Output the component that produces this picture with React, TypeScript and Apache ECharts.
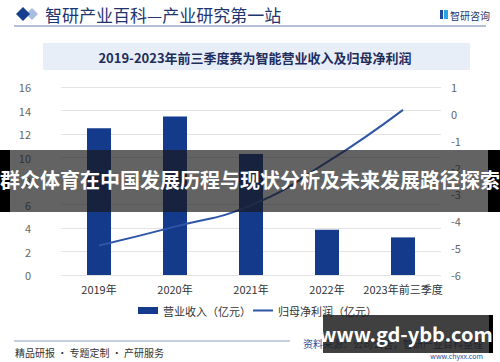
import React, { useEffect, useRef } from "react";
import * as echarts from "echarts";

const categories = ["2019年", "2020年", "2021年", "2022年", "2023年前三季度"];
const revenue = [12.5, 13.5, 10.3, 3.85, 3.2];
const netProfit = [-4.9, -4.2, -3.4, -1.8, 0.15];
const leftTicks = { min: 0, max: 16, interval: 2 };
const rightTicks = { min: -6, max: 1, interval: 1 };

const FONT = "'Noto Sans CJK SC', 'Noto Sans', sans-serif";

export default function App() {
  const ref = useRef<HTMLDivElement>(null);
  useEffect(() => {
    if (!ref.current) return;
    const chart = echarts.init(ref.current, null, { renderer: "svg" });
    chart.setOption({
      animation: false,
      backgroundColor: "#ffffff",
      textStyle: { fontFamily: FONT },
      grid: { left: 61, right: 59, top: 87, bottom: 87, containLabel: false },
      legend: [
        {
          top: 305,
          left: 138,
          padding: 0,
          itemWidth: 20,
          itemHeight: 7,
          itemGap: 10,
          textStyle: { fontSize: 11, color: "#333", fontFamily: FONT },
          data: [{ name: "营业收入（亿元）", icon: "rect" }],
        },
        {
          top: 305,
          left: 253,
          padding: 0,
          itemWidth: 20,
          itemHeight: 2,
          itemGap: 10,
          textStyle: { fontSize: 11, color: "#333", fontFamily: FONT },
          data: [{ name: "归母净利润（亿元）", icon: "rect" }],
        },
      ],
      xAxis: {
        type: "category",
        data: categories,
        axisLine: { show: false },
        axisTick: { show: false },
        axisLabel: { fontSize: 11, color: "#333", margin: 8, interval: 0, fontFamily: FONT },
      },
      yAxis: [
        {
          type: "value",
          ...leftTicks,
          axisLine: { show: false },
          axisTick: { show: false },
          axisLabel: { fontSize: 11, color: "#666", margin: 30, fontFamily: FONT },
          splitLine: { lineStyle: { color: "#e3e3e3", width: 1 } },
        },
        {
          type: "value",
          ...rightTicks,
          axisLine: { show: false },
          axisTick: { show: false },
          axisLabel: { fontSize: 11, color: "#666", margin: 10, fontFamily: FONT },
          splitLine: { show: false },
        },
      ],
      series: [
        {
          name: "营业收入（亿元）",
          type: "bar",
          data: revenue,
          barWidth: 24,
          itemStyle: { color: "#133a8b" },
        },
        {
          name: "归母净利润（亿元）",
          type: "line",
          yAxisIndex: 1,
          data: netProfit,
          smooth: true,
          symbol: "none",
          lineStyle: { color: "#2f55a6", width: 2 },
          itemStyle: { color: "#2f55a6" },
        },
      ],
      graphic: [
        // header
        { type: "polygon", shape: { points: [[32, 8], [38, 14], [32, 20], [26, 14]] }, style: { fill: "#a9bde0" } },
        { type: "polygon", shape: { points: [[23, 7], [30, 14], [23, 21], [16, 14]] }, style: { fill: "#173e8f" } },
        {
          type: "text",
          x: 45,
          y: 14,
          style: { text: "智研产业百科—产业研究第一站", font: `17px ${FONT}`, fill: "#1e3570", textVerticalAlign: "middle" },
        },
        { type: "rect", shape: { x: 440, y: 10, width: 3, height: 9 }, style: { fill: "#1f4aa0" } },
        { type: "rect", shape: { x: 444, y: 10, width: 4, height: 9 }, style: { fill: "#2aa3e0" } },
        {
          type: "text",
          x: 450,
          y: 15,
          style: { text: "智研咨询", font: `10px ${FONT}`, fill: "#1e3570", textVerticalAlign: "middle" },
        },
        { type: "line", shape: { x1: 14, y1: 26, x2: 486, y2: 26 }, style: { stroke: "#6a7fae", lineWidth: 1 } },
        // title box
        { type: "rect", shape: { x: 43, y: 43, width: 427, height: 27 }, style: { fill: "#e8eef8" } },
        {
          type: "text",
          x: 255,
          y: 57,
          style: {
            text: "2019-2023年前三季度赛为智能营业收入及归母净利润",
            font: `bold 13px ${FONT}`,
            fill: "#1e2d5c",
            textAlign: "center",
            textVerticalAlign: "middle",
          },
        },
        // footer
        { type: "line", shape: { x1: 14, y1: 341, x2: 290, y2: 341 }, style: { stroke: "#8d9dc4", lineWidth: 1 } },
        {
          type: "text",
          x: 15,
          y: 352,
          style: { text: "精品研报 · 专题定制 · 产研服务", font: `10px ${FONT}`, fill: "#333", textVerticalAlign: "middle" },
        },
        {
          type: "text",
          x: 483,
          y: 343,
          style: { text: "资料来源：公司公告，智研产业百科整理", font: `10px ${FONT}`, fill: "#2a4a9a", textAlign: "right", textVerticalAlign: "middle" },
        },
        {
          type: "text",
          x: 483,
          y: 356,
          style: { text: "www.chyxx.com", font: `7px ${FONT}`, fill: "#2a4a9a", textAlign: "right", textVerticalAlign: "middle" },
        },
        // overlay band
        { type: "rect", shape: { x: 0, y: 150, width: 500, height: 62 }, style: { fill: "rgba(25,25,25,0.68)" }, z: 100 },
        { type: "rect", shape: { x: 0, y: 150, width: 10, height: 62 }, style: { fill: "#000" }, z: 100 },
        { type: "rect", shape: { x: 488, y: 150, width: 12, height: 62 }, style: { fill: "#000" }, z: 100 },
        {
          type: "text",
          x: 250,
          y: 179,
          z: 101,
          style: {
            text: "群众体育在中国发展历程与现状分析及未来发展路径探索",
            font: `bold 20px ${FONT}`,
            fill: "#ffffff",
            textAlign: "center",
            textVerticalAlign: "middle",
          },
        },
        // overlay box bottom right
        { type: "rect", shape: { x: 323, y: 315, width: 167, height: 38 }, style: { fill: "rgba(30,30,30,0.85)" }, z: 100 },
        { type: "rect", shape: { x: 489, y: 315, width: 4, height: 38 }, style: { fill: "#000" }, z: 100 },
        {
          type: "text",
          x: 406,
          y: 333,
          z: 101,
          style: {
            text: "www.gd-ybb.com",
            font: `bold 20px ${FONT}`,
            fill: "#ffffff",
            textAlign: "center",
            textVerticalAlign: "middle",
          },
        },
      ],
    });
    return () => chart.dispose();
  }, []);
  return (
    <div
      ref={ref}
      style={{ position: "fixed", left: 0, top: 0, width: 500, height: 362 }}
    />
  );
}
